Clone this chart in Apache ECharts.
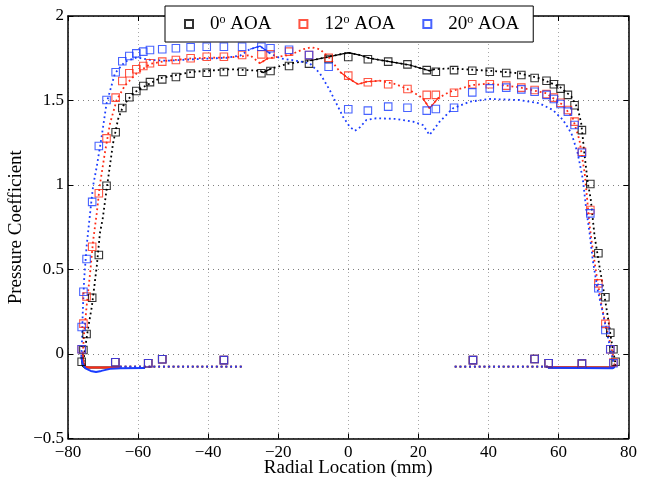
<!DOCTYPE html>
<html><head><meta charset="utf-8">
<script src="https://cdn.jsdelivr.net/npm/echarts@6.0.0/dist/echarts.min.js"></script>
<style>html,body{margin:0;padding:0;background:#fff}#c{width:649px;height:484px}</style>
</head><body><div id="c"></div>
<script>
// ---- axis ranges ----
const xMin = -80, xMax = 80, xStep = 20;
const yMin = -0.5, yMax = 2, yStep = 0.5;

// ---- experimental data (upper surface taps, mm) ----
const taps = [-76.1, -75.6, -74.7, -73.1, -71.2, -69.0, -66.4, -64.5, -62.5, -60.5, -58.5, -56.6, -53.1, -49.2, -45.0, -40.4, -35.5, -30.3, -24.8, -22.2, -16.9, -11.2, -5.6, 0, 5.6, 11.4, 16.9, 22.4, 25.0, 30.2, 35.4, 40.4, 45.1, 49.4, 53.2, 56.6, 58.7, 60.6, 62.7, 64.6, 66.7, 69.1, 71.4, 73.4, 74.8, 75.7, 76.3];
const cp0 = [-0.046, 0.024, 0.118, 0.333, 0.586, 0.996, 1.312, 1.456, 1.519, 1.556, 1.586, 1.609, 1.625, 1.639, 1.659, 1.664, 1.669, 1.670, 1.661, 1.675, 1.704, 1.718, 1.746, 1.757, 1.744, 1.730, 1.714, 1.680, 1.670, 1.680, 1.676, 1.670, 1.663, 1.651, 1.633, 1.617, 1.596, 1.570, 1.533, 1.472, 1.325, 1.006, 0.596, 0.336, 0.126, 0.028, -0.046];
const cp12 = [0.028, 0.18, 0.34, 0.635, 0.951, 1.276, 1.517, 1.615, 1.661, 1.685, 1.704, 1.720, 1.730, 1.740, 1.750, 1.759, 1.759, 1.769, 1.773, 1.773, 1.789, 1.769, 1.753, 1.647, 1.608, 1.596, 1.568, 1.533, 1.533, 1.546, 1.596, 1.596, 1.588, 1.576, 1.562, 1.538, 1.517, 1.487, 1.444, 1.375, 1.197, 0.852, 0.418, 0.178, 0.028, -0.05, null];
const cp20 = [0.16, 0.368, 0.562, 0.90, 1.231, 1.503, 1.667, 1.732, 1.763, 1.779, 1.789, 1.799, 1.803, 1.809, 1.815, 1.818, 1.818, 1.818, 1.818, 1.809, 1.80, 1.769, 1.70, 1.448, 1.44, 1.464, 1.457, 1.44, 1.45, 1.457, 1.548, 1.572, 1.576, 1.566, 1.552, 1.533, 1.509, 1.479, 1.434, 1.355, 1.191, 0.832, 0.389, 0.142, 0.028, -0.055, null];

// lower surface taps
const lowTaps = [-76.1, -66.5, -57.1, -53.1, -35.5, 35.6, 53.2, 57.2, 66.7];
const lowCp0 = [null, -0.049, -0.055, -0.031, -0.036, -0.036, -0.030, -0.055, -0.057];
const lowCp12 = [null, -0.049, -0.055, -0.031, -0.036, -0.036, -0.030, -0.055, -0.057];
const lowCp20 = [0.028, -0.049, -0.055, -0.031, -0.036, -0.036, -0.030, -0.055, -0.057];

// ---- CFD upper surface ----
const cfd0X = [-75.6, -75.2, -74.2, -73.2, -71.8, -70.9, -70.1, -69.0, -68.0, -67.2, -65.7, -64.2, -61.4, -57.6, -53.9, -44.4, -33.8, -25.2, -24.3, -21.9, -16.7, -11.0, -5.3, 0, 3.3, 6.1, 11.8, 17.5, 23.2, 24.7, 29.0, 40.4, 48.9, 54.6, 60.3, 63.7, 65.5, 66.5, 67.5, 68.4, 69.2, 70.3, 71.7, 72.7, 74.1, 75.1, 76.3];
const cfd0Y = [-0.046, 0.024, 0.16, 0.28, 0.517, 0.714, 0.80, 0.97, 1.12, 1.24, 1.39, 1.47, 1.543, 1.59, 1.631, 1.67, 1.685, 1.676, 1.665, 1.69, 1.72, 1.735, 1.76, 1.783, 1.769, 1.75, 1.73, 1.71, 1.676, 1.685, 1.69, 1.676, 1.661, 1.631, 1.582, 1.523, 1.454, 1.365, 1.17, 1.01, 0.92, 0.70, 0.52, 0.40, 0.22, 0.08, -0.06];
const cfd12X = [-75.8, -75.4, -74.7, -73.7, -72.8, -71.8, -70.9, -69.5, -68.0, -66.1, -63.7, -60.4, -56.6, -51.9, -44.3, -34.7, -30.9, -28.1, -25.2, -22.9, -16.7, -12.9, -10.5, -8.1, -5.3, -2.4, 0, 2.8, 5.2, 9.0, 13.7, 17.5, 21.3, 23.2, 25.6, 29.0, 35.6, 40.4, 48.9, 56.5, 61.3, 64.1, 66.0, 67.5, 68.4, 68.9, 69.8, 70.8, 72.2, 73.6, 75.1, 76.0];
const cfd12Y = [0.004, 0.122, 0.28, 0.477, 0.675, 0.832, 1.0, 1.187, 1.365, 1.503, 1.59, 1.661, 1.716, 1.735, 1.75, 1.755, 1.759, 1.769, 1.72, 1.75, 1.769, 1.803, 1.815, 1.803, 1.75, 1.67, 1.631, 1.596, 1.611, 1.617, 1.596, 1.562, 1.513, 1.454, 1.513, 1.552, 1.592, 1.60, 1.578, 1.543, 1.473, 1.395, 1.266, 1.069, 0.871, 0.76, 0.615, 0.477, 0.30, 0.161, 0.043, -0.065];
const cfd20X = [-76.2, -76.0, -75.8, -75.4, -74.7, -73.7, -72.8, -71.8, -70.4, -69.0, -66.6, -63.7, -60.4, -56.6, -51.9, -44.3, -34.7, -30.9, -28.1, -25.2, -22.4, -19.5, -14.8, -11.0, -8.1, -5.3, -3.4, -1.5, 0.4, 1.9, 3.3, 5.2, 8.0, 13.7, 18.5, 21.3, 23.2, 26.1, 29.9, 34.7, 40.4, 48.9, 54.6, 58.4, 61.3, 63.7, 65.5, 67.0, 67.9, 68.9, 69.8, 71.2, 72.7, 74.1, 75.1, 76.0];
const cfd20Y = [-0.016, 0.083, 0.24, 0.438, 0.635, 0.832, 1.0, 1.108, 1.286, 1.483, 1.661, 1.73, 1.755, 1.74, 1.735, 1.744, 1.753, 1.765, 1.803, 1.822, 1.78, 1.75, 1.735, 1.72, 1.661, 1.562, 1.483, 1.404, 1.345, 1.321, 1.341, 1.385, 1.395, 1.391, 1.375, 1.355, 1.296, 1.375, 1.454, 1.493, 1.509, 1.503, 1.483, 1.444, 1.385, 1.306, 1.188, 1.03, 0.862, 0.714, 0.556, 0.379, 0.24, 0.102, 0.004, -0.075];

// ---- CFD lower surface (dense node regions near edges, null = break) ----
const low0X = [-76.1, -75.8, -75.2, -65.2, null, 57.0, 75.8, 76.3];
const low0Y = [-0.02, -0.07, -0.08, -0.08, null, -0.08, -0.08, -0.06];
const low12X = [-75.8, -75.6, -75.0, -74.0, -65.2, null, 57.0, 75.5, 76.0];
const low12Y = [0.004, -0.05, -0.075, -0.08, -0.08, null, -0.078, -0.08, -0.065];
const low20X = [-76.2, -75.8, -75.0, -73.5, -72.0, -70.5, -68.0, -65.0, -58.0, null, 57.0, 75.5, 76.0];
const low20Y = [-0.016, -0.06, -0.085, -0.10, -0.107, -0.10, -0.088, -0.085, -0.083, null, -0.082, -0.085, -0.075];
// sparse node region of lower surface
const lowDotX = [-65.2, -30.4, null, 30.4, 57.0];
const lowDotY = [-0.075, -0.075, null, -0.075, -0.075];

const names = ['0', '12', '20'];
const colors = ['#000000', '#ff2a14', '#1a3cff'];
const FONT = "'Liberation Serif', 'DejaVu Serif', serif";

const zip = (xs, ys) => xs.map((x, i) => [x, ys[i]]);
const between = (xs, ys, a, b) => zip(xs, ys).filter(p => p[0] >= a && p[0] <= b);
const minus = v => String(v).replace('-', '\u2212');

const dotted = [1.8, 3];
function cfdLine(data, color, type, w) {
  return { type: 'line', data, showSymbol: false, symbol: 'none', silent: true,
    lineStyle: { color, width: w || 1.8, type: type || dotted, cap: 'butt' }, z: 2 };
}
function markers(name, data, color) {
  return { type: 'scatter', name, data, symbol: 'rect', symbolSize: 7.5, z: 3,
    itemStyle: { color: 'rgba(0,0,0,0)', borderColor: color, borderWidth: 1.1 } };
}

const series = [];
const cfds = [[cfd0X, cfd0Y], [cfd12X, cfd12Y], [cfd20X, cfd20Y]];
const lows = [[low0X, low0Y], [low12X, low12Y], [low20X, low20Y]];
const cps = [cp0, cp12, cp20];
const lowCps = [lowCp0, lowCp12, lowCp20];
const solidRanges = [[[-26, -21], [-12, 25]], [[-27, -21], [-4, 10], [20, 26]], [[-29, -21]]];
for (let k = 0; k < 3; k++) {
  const c = colors[k];
  series.push(cfdLine(zip(cfds[k][0], cfds[k][1]), c));
  solidRanges[k].forEach(r => series.push(cfdLine(between(cfds[k][0], cfds[k][1], r[0], r[1]), c, 'solid', 1.2)));
  series.push(cfdLine(zip(lowDotX, lowDotY), c));
  series.push(cfdLine(zip(lows[k][0], lows[k][1]), c, 'solid', 2));
  series.push(markers(names[k], zip(taps, cps[k]).concat(zip(lowTaps, lowCps[k])).filter(p => p[1] !== null), c));
}

const axisCommon = {
  type: 'value',
  axisLine: { show: true, onZero: false, lineStyle: { color: '#000', width: 1.5 } },
  axisTick: { show: true, inside: true, length: 5, lineStyle: { color: '#000', width: 1 } },
};
const chart = echarts.init(document.getElementById('c'), null, { renderer: 'canvas' });
chart.setOption({
  animation: false,
  backgroundColor: '#fff',
  grid: { left: 68, right: 20.5, top: 16, bottom: 45.5, containLabel: false, outerBoundsMode: 'none' },
  legend: {
    data: names, left: 165, top: 6, orient: 'horizontal',
    padding: [8, 14, 8, 19], itemGap: 27, itemWidth: 8, itemHeight: 8,
    backgroundColor: '#fff', borderColor: '#000', borderWidth: 1, borderRadius: 0,
    formatter: n => n + '{s|o} AOA',
    textStyle: { fontFamily: FONT, fontSize: 19, color: '#000', padding: [0, 0, 0, 12], lineHeight: 20,
      rich: { s: { fontFamily: FONT, fontSize: 12, color: '#000', verticalAlign: 'top', lineHeight: 12 } } },
    z: 10
  },
  xAxis: [
    Object.assign({}, axisCommon, { min: xMin, max: xMax, interval: xStep, position: 'bottom',
      name: 'Radial Location (mm)', nameLocation: 'middle', nameGap: 20, nameMoveOverlap: false,
      nameTextStyle: { fontFamily: FONT, fontSize: 19, color: '#000' },
      axisLabel: { fontFamily: FONT, fontSize: 17, color: '#000', margin: 6, formatter: minus, showMinLabel: true, showMaxLabel: true },
      splitLine: { show: true, lineStyle: { color: '#a8a8a8', type: [1, 3], width: 1 } } }),
    Object.assign({}, axisCommon, { min: xMin, max: xMax, interval: xStep, position: 'top',
      axisLabel: { show: false }, splitLine: { show: false } })
  ],
  yAxis: [
    Object.assign({}, axisCommon, { min: yMin, max: yMax, interval: yStep, position: 'left',
      name: 'Pressure Coefficient', nameLocation: 'middle', nameGap: 42, nameRotate: 90, nameMoveOverlap: false,
      nameTextStyle: { fontFamily: FONT, fontSize: 19, color: '#000' },
      axisLabel: { fontFamily: FONT, fontSize: 17, color: '#000', margin: 4, formatter: minus, showMinLabel: true, showMaxLabel: true },
      splitLine: { show: true, lineStyle: { color: '#808080', type: [1, 4], width: 1 } } }),
    Object.assign({}, axisCommon, { min: yMin, max: yMax, interval: yStep, position: 'right',
      axisLabel: { show: false }, splitLine: { show: false } })
  ],
  series
});
</script></body></html>
